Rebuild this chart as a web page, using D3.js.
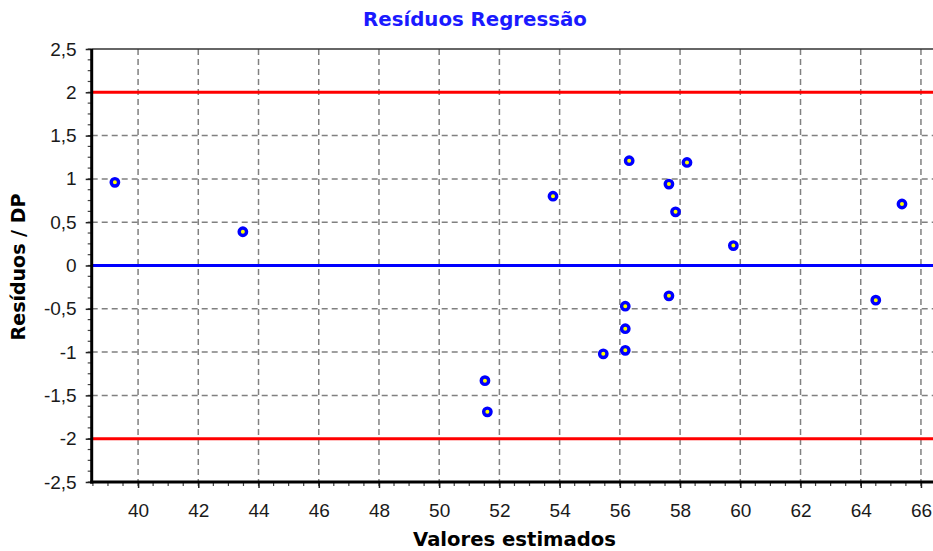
<!DOCTYPE html>
<html><head><meta charset="utf-8">
<script src="https://cdn.jsdelivr.net/npm/d3@7"></script>
<style>body{margin:0;background:#fff}svg{display:block}</style>
</head><body>
<script>
const title = "Resíduos Regressão";
const xLabel = "Valores estimados";
const yLabel = "Resíduos / DP";
const estimated = [39.23, 43.48, 53.78, 56.31, 58.23, 57.63, 57.85, 59.77, 57.63, 56.18, 56.18, 56.18, 55.45, 51.52, 51.60, 64.50, 65.37];
const residuals = [0.96, 0.39, 0.80, 1.21, 1.19, 0.94, 0.62, 0.23, -0.35, -0.47, -0.73, -0.98, -1.02, -1.33, -1.69, -0.40, 0.71];
const xTicks = [40, 42, 44, 46, 48, 50, 52, 54, 56, 58, 60, 62, 64, 66];
const yTicks = [-2.5, -2, -1.5, -1, -0.5, 0, 0.5, 1, 1.5, 2, 2.5];
const limits = [2, -2];
const centerLine = 0;

(function () {
const W = 933, H = 551;
const svg = d3.select("body").append("svg").attr("width", W).attr("height", H);
const x = d3.scaleLinear().domain([38.46, 66.4]).range([91.7, 933]);
const y = d3.scaleLinear().domain([-2.5, 2.5]).range([482, 49]);
const fmt = v => String(v).replace(".", ",");

const pL = 91.7, pR = 933, pT = 49, pB = 482;

// grid
const g = svg.append("g");
g.selectAll("line.vg").data(xTicks).join("line")
  .attr("x1", d => x(d)).attr("x2", d => x(d)).attr("y1", pT).attr("y2", pB)
  .attr("stroke", "#808080").attr("stroke-width", 1.5).attr("stroke-dasharray", "6,4");
g.selectAll("line.hg").data(yTicks.slice(1, -1)).join("line")
  .attr("x1", pL).attr("x2", pR).attr("y1", d => y(d)).attr("y2", d => y(d))
  .attr("stroke", "#808080").attr("stroke-width", 1.5).attr("stroke-dasharray", "6,4");

// reference lines
svg.append("g").selectAll("line").data(limits).join("line")
  .attr("x1", pL).attr("x2", pR).attr("y1", d => y(d)).attr("y2", d => y(d))
  .attr("stroke", "#ff0000").attr("stroke-width", 3);
svg.append("line").attr("x1", pL).attr("x2", pR).attr("y1", y(centerLine)).attr("y2", y(centerLine))
  .attr("stroke", "#0000ff").attr("stroke-width", 3);

// top border
svg.append("line").attr("x1", pL).attr("x2", pR).attr("y1", pT).attr("y2", pT)
  .attr("stroke", "#333").attr("stroke-width", 1.5);

// minor ticks
const xMinor = d3.range(38.5, 66.5, 0.5);
svg.append("g").selectAll("line").data(xMinor).join("line")
  .attr("x1", d => x(d)).attr("x2", d => x(d)).attr("y1", pB).attr("y2", pB + 4)
  .attr("stroke", "#444").attr("stroke-width", 1.2);
const yMinor = d3.range(-2.5, 2.501, 0.125);
svg.append("g").selectAll("line").data(yMinor).join("line")
  .attr("x1", pL - 4).attr("x2", pL).attr("y1", d => y(d)).attr("y2", d => y(d))
  .attr("stroke", "#444").attr("stroke-width", 1.2);

// axes
const xAxis = svg.append("g").attr("transform", `translate(0,${pB})`)
  .call(d3.axisBottom(x).tickValues(xTicks).tickFormat(fmt).tickSize(6).tickPadding(16));
const yAxis = svg.append("g").attr("transform", `translate(${pL},0)`)
  .call(d3.axisLeft(y).tickValues(yTicks).tickFormat(fmt).tickSize(6).tickPadding(9));
[xAxis, yAxis].forEach(a => {
  a.select(".domain").remove();
  a.selectAll(".tick line").attr("stroke", "#222").attr("stroke-width", 1.5);
  a.selectAll("text").attr("font-family", "Liberation Sans, Arial, sans-serif")
    .attr("font-size", 19).attr("fill", "#1a1a1a");
});
svg.append("line").attr("x1", pL).attr("x2", pL).attr("y1", pT).attr("y2", pB + 1.5)
  .attr("stroke", "#000").attr("stroke-width", 3);
svg.append("line").attr("x1", pL - 1.5).attr("x2", pR).attr("y1", pB).attr("y2", pB)
  .attr("stroke", "#000").attr("stroke-width", 3);

// points
svg.append("g").selectAll("circle").data(estimated.map((v, i) => [v, residuals[i]])).join("circle")
  .attr("cx", d => x(d[0])).attr("cy", d => y(d[1])).attr("r", 3.7)
  .attr("fill", "#ffff00").attr("stroke", "#0000ff").attr("stroke-width", 3.4);

// texts, sized to the reference widths
function fit(sel, target) {
  const w = sel.node().getComputedTextLength();
  const fs = +sel.attr("font-size");
  sel.attr("font-size", fs * target / w);
}
const fam = "DejaVu Sans, Verdana, sans-serif";
const t = svg.append("text").attr("x", 475).attr("y", 26).attr("text-anchor", "middle")
  .attr("font-family", fam).attr("font-weight", "bold")
  .attr("font-size", 17).attr("fill", "#1a1aff").text(title);
fit(t, 224);
const xl = svg.append("text").attr("x", 514.5).attr("y", 546).attr("text-anchor", "middle")
  .attr("font-family", fam).attr("font-weight", "bold")
  .attr("font-size", 18).attr("fill", "#000").text(xLabel);
fit(xl, 203);
const yl = svg.append("text").attr("transform", "translate(25,267) rotate(-90)").attr("text-anchor", "middle")
  .attr("font-family", fam).attr("font-weight", "bold")
  .attr("font-size", 17).attr("fill", "#000").text(yLabel);
fit(yl, 147);
})();
</script>
</body></html>
